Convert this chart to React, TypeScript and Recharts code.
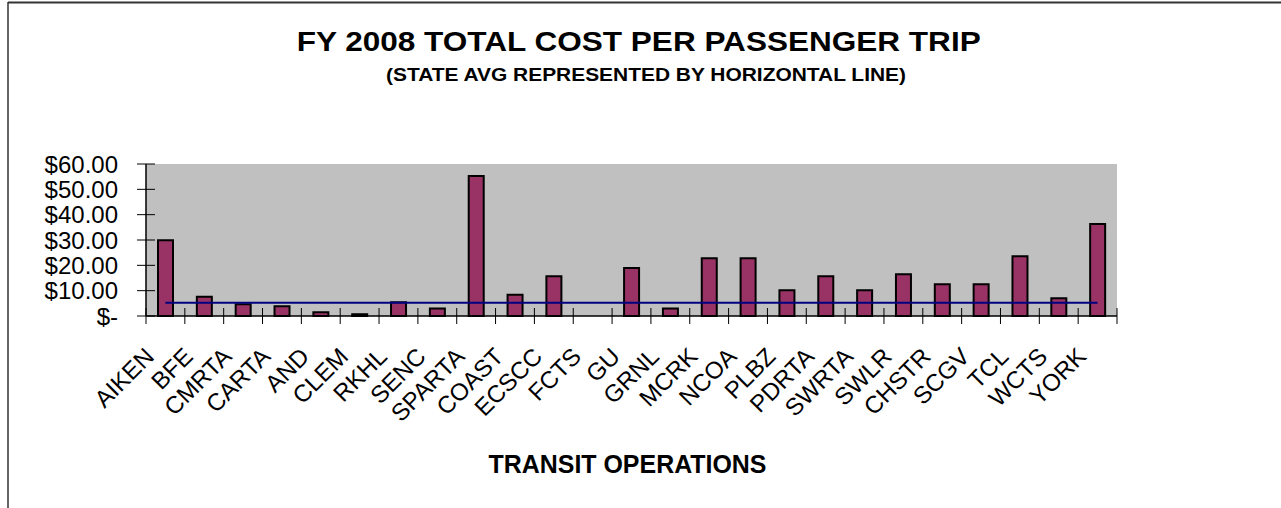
import { ComposedChart, Bar, Line, XAxis, YAxis, CartesianGrid } from 'recharts';

const categories = [
  'AIKEN', 'BFE', 'CMRTA', 'CARTA', 'AND', 'CLEM', 'RKHL', 'SENC', 'SPARTA',
  'COAST', 'ECSCC', 'FCTS', 'GU', 'GRNL', 'MCRK', 'NCOA', 'PLBZ', 'PDRTA',
  'SWRTA', 'SWLR', 'CHSTR', 'SCGV', 'TCL', 'WCTS', 'YORK',
];
const costPerTrip = [
  29.9, 7.6, 4.6, 3.8, 1.5, 0.7, 5.4, 3.0, 55.3,
  8.4, 15.7, 0, 18.9, 3.0, 22.8, 22.8, 10.2, 15.7,
  10.2, 16.5, 12.5, 12.5, 23.6, 7.0, 36.3,
];
const stateAvg = 5.26;
const yTicks = [0, 10, 20, 30, 40, 50, 60];

const W = 1281;
const H = 508;
const PLOT_LEFT = 146;
const PLOT_RIGHT = 1117;
const PLOT_TOP = 164;
const PLOT_BOTTOM = 316;
const BAND = (PLOT_RIGHT - PLOT_LEFT) / categories.length;
const FONT = 'Arial, "Liberation Sans", sans-serif';

const data = categories.map((name, i) => ({
  name,
  cost: costPerTrip[i],
  avg: stateAvg,
}));

const money = (v: number) => (v === 0 ? '$-' : `$${v.toFixed(2)}`);

// category ticks sit on band edges, like the original spreadsheet chart
function XTick(props: any) {
  const { x, payload, index } = props;
  const tx = x - 10;
  const ty = PLOT_BOTTOM + 42;
  const last = index === categories.length - 1;
  return (
    <g>
      <line x1={x - BAND / 2} x2={x - BAND / 2} y1={PLOT_BOTTOM - 8} y2={PLOT_BOTTOM + 8} stroke='#000' />
      {last && (
        <line x1={x + BAND / 2} x2={x + BAND / 2} y1={PLOT_BOTTOM - 8} y2={PLOT_BOTTOM + 8} stroke='#000' />
      )}
      <text
        x={tx}
        y={ty}
        transform={`rotate(-45 ${tx} ${ty})`}
        textAnchor='end'
        fontFamily={FONT}
        fontSize={24}
        fill='#000'
      >
        {payload.value}
      </text>
    </g>
  );
}

function YTick(props: any) {
  const { y, payload } = props;
  return (
    <g>
      <line x1={PLOT_LEFT - 9} x2={PLOT_LEFT + 9} y1={y} y2={y} stroke='#000' />
      <text
        x={118}
        y={y}
        dy='0.36em'
        textAnchor='end'
        fontFamily={FONT}
        fontSize={24}
        fill='#000'
      >
        {money(payload.value)}
      </text>
    </g>
  );
}

export default function App() {
  return (
    <div style={{ position: 'absolute', left: 0, top: 0, width: W, height: H, background: '#fff' }}>
      <ComposedChart
        width={W}
        height={H}
        data={data}
        margin={{ top: PLOT_TOP, right: W - PLOT_RIGHT, bottom: 72, left: 0 }}
      >
        <CartesianGrid fill='#C0C0C0' stroke='none' horizontal={false} vertical={false} />
        <XAxis
          dataKey='name'
          interval={0}
          height={120}
          tick={<XTick />}
          tickLine={false}
          axisLine={{ stroke: '#000', strokeWidth: 1.5 }}
        />
        <XAxis
          xAxisId='top'
          dataKey='name'
          orientation='top'
          height={0}
          tick={false}
          tickLine={false}
          axisLine={{ stroke: '#808080', strokeWidth: 2 }}
        />
        <YAxis
          width={PLOT_LEFT}
          domain={[0, 60]}
          ticks={yTicks}
          interval={0}
          tick={<YTick />}
          tickLine={false}
          axisLine={{ stroke: '#000', strokeWidth: 1.5 }}
        />
        <YAxis
          yAxisId='right'
          orientation='right'
          width={0}
          domain={[0, 60]}
          tick={false}
          tickLine={false}
          axisLine={{ stroke: '#808080', strokeWidth: 2 }}
        />
        <Bar
          dataKey='cost'
          barSize={15}
          fill='#993366'
          stroke='#000'
          strokeWidth={2}
          isAnimationActive={false}
        />
        <Line
          dataKey='avg'
          type='linear'
          stroke='#000080'
          strokeWidth={2}
          dot={false}
          activeDot={false}
          isAnimationActive={false}
        />
      </ComposedChart>
      <svg
        width={W}
        height={H}
        style={{ position: 'absolute', left: 0, top: 0, pointerEvents: 'none' }}
      >
        <line x1={8} x2={8} y1={2} y2={H} stroke='#333' strokeWidth={1.5} />
        <line x1={8} x2={W} y1={2.5} y2={2.5} stroke='#333' strokeWidth={2} />
        <text
          x={638.7}
          y={51}
          textAnchor='middle'
          fontFamily={FONT}
          fontWeight='bold'
          fontSize={28}
          textLength={684}
          lengthAdjust='spacingAndGlyphs'
        >
          FY 2008 TOTAL COST PER PASSENGER TRIP
        </text>
        <text
          x={646}
          y={81}
          textAnchor='middle'
          fontFamily={FONT}
          fontWeight='bold'
          fontSize={19}
          textLength={520}
          lengthAdjust='spacingAndGlyphs'
        >
          (STATE AVG REPRESENTED BY HORIZONTAL LINE)
        </text>
        <text
          x={627.5}
          y={472.7}
          textAnchor='middle'
          fontFamily={FONT}
          fontWeight='bold'
          fontSize={25}
          textLength={278}
          lengthAdjust='spacingAndGlyphs'
        >
          TRANSIT OPERATIONS
        </text>
      </svg>
    </div>
  );
}
